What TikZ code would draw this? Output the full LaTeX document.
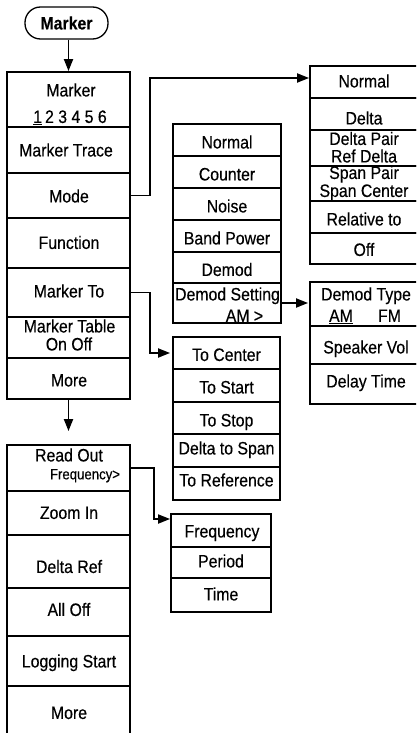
\documentclass[tikz,border=0pt]{standalone}
\usepackage{fontspec}
\setmainfont{Liberation Sans}[FakeStretch=0.88,FakeBold=0.35]
\usetikzlibrary{fit,arrows.meta}
\newcommand{\lblfnt}{\fontsize{18}{19}\selectfont}
\newcommand{\smfnt}{\fontsize{15}{16}\selectfont}
\begin{document}
\begin{tikzpicture}[x=1pt,y=-1pt,
  bx/.style={draw, line width=1.8pt, inner sep=0pt},
  lb/.style={inner sep=0pt, text height=12.9pt, text depth=0pt, font=\lblfnt},
  lbs/.style={inner sep=0pt, text height=10.7pt, text depth=0pt, font=\smfnt},
  conn/.style={line width=1.8pt},
  arr/.style={line width=1.8pt, -{Triangle[length=12pt,width=9pt]}},
  term/.style={draw, line width=1.3pt, rounded corners=15.5pt, minimum width=83pt, minimum height=32pt, inner sep=0pt, text height=12.9pt, text depth=0pt, font=\lblfnt\bfseries}]
\path[use as bounding box] (0,0) rectangle (416,733);
\clip (0,0) rectangle (416,733);

% terminal
\node[term] (term) at (66.5,23) {Marker};

% column 1
\node[bx, fit={(7,72) (130,127)}] (marker) {};
\node[bx, fit={(7,127) (130,173)}] (trace) {};
\node[bx, fit={(7,173) (130,218)}] (mode) {};
\node[bx, fit={(7,218) (130,268)}] (func) {};
\node[bx, fit={(7,268) (130,317)}] (mto) {};
\node[bx, fit={(7,317) (130,358)}] (mtab) {};
\node[bx, fit={(7,358) (130,399)}] (more1) {};
\node[bx, fit={(7,445) (130,491)}] (readout) {};
\node[bx, fit={(7,491) (130,535)}] (zoomin) {};
\node[bx, fit={(7,535) (130,588)}] (dref) {};
\node[bx, fit={(7,588) (130,636)}] (alloff) {};
\node[bx, fit={(7,636) (130,686)}] (logging) {};
\node[bx, fit={(7,686) (130,742)}] (more2) {};

\node[lb] (tMarker) at (71,90) {Marker};
\node[lb] (tDigits) at (70,116.5) {\underline{1}\,2 3 4 5 6};
\node[lb] (tTrace) at (66,150) {Marker Trace};
\node[lb] (tMode) at (69,196) {Mode};
\node[lb] (tFunc) at (69,242.5) {Function};
\node[lb] (tMto) at (69,291) {Marker To};
\node[lb] (tMtab) at (69.5,326) {Marker Table};
\node[lb] (tOnOff) at (69,344) {On Off};
\node[lb] (tMore1) at (69,380) {More};
\node[lb] (tRead) at (69,455) {Read Out};
\node[lbs] (tFreqG) at (85,474) {Frequency>};
\node[lb] (tZoom) at (69,512.5) {Zoom In};
\node[lb] (tDref) at (69,566.5) {Delta Ref};
\node[lb] (tAll) at (69,609.5) {All Off};
\node[lb] (tLog) at (69,661) {Logging Start};
\node[lb] (tMore2) at (69,712.5) {More};

% middle column
\node[bx, fit={(173,124) (281,156)}] (nnormal) {};
\node[bx, fit={(173,156) (281,188)}] (counter) {};
\node[bx, fit={(173,188) (281,220)}] (noise) {};
\node[bx, fit={(173,220) (281,252)}] (bandp) {};
\node[bx, fit={(173,252) (281,283)}] (demod) {};
\node[bx, fit={(173,283) (281,323)}] (demodset) {};
\node[lb] (tNn) at (227,142) {Normal};
\node[lb] (tCnt) at (227,174) {Counter};
\node[lb] (tNoise) at (227,206) {Noise};
\node[lb] (tBand) at (227,238) {Band Power};
\node[lb] (tDemod) at (227,269.5) {Demod};
\node[lb] (tDset) at (227.5,294) {Demod Setting};
\node[lb] (tAMg) at (244.5,315.5) {AM >};

% To column
\node[bx, fit={(173,337) (280,369)}] (tocenter) {};
\node[bx, fit={(173,369) (280,402)}] (tostart) {};
\node[bx, fit={(173,402) (280,434)}] (tostop) {};
\node[bx, fit={(173,434) (280,467)}] (dtospan) {};
\node[bx, fit={(173,467) (280,500)}] (toref) {};
\node[lb] (tTc) at (226.5,354.5) {To Center};
\node[lb] (tTs) at (226.5,387) {To Start};
\node[lb] (tTp) at (226.5,420) {To Stop};
\node[lb] (tDs) at (226.5,448) {Delta to Span};
\node[lb] (tTr) at (226.5,480) {To Reference};

% Frequency column
\node[bx, fit={(171,514) (271,547)}] (freq) {};
\node[bx, fit={(171,547) (271,578)}] (period) {};
\node[bx, fit={(171,578) (271,612)}] (time) {};
\node[lb] (tFreq) at (222,531) {Frequency};
\node[lb] (tPer) at (221,561) {Period};
\node[lb] (tTime) at (221,594) {Time};

% right column (mode submenu)
\node[bx, fit={(310,66) (420,98)}] (rnormal) {};
\node[bx, fit={(310,98) (420,130)}] (delta) {};
\node[bx, fit={(310,130) (420,166)}] (dpair) {};
\node[bx, fit={(310,166) (420,201)}] (spair) {};
\node[bx, fit={(310,201) (420,233)}] (relto) {};
\node[bx, fit={(310,233) (420,264)}] (off) {};
\node[lb] (tRn) at (364,81) {Normal};
\node[lb] (tDelta) at (364,118) {Delta};
\node[lb] (tDp) at (364,138.5) {Delta Pair};
\node[lb] (tRd) at (364,156) {Ref Delta};
\node[lb] (tSp) at (364,172.5) {Span Pair};
\node[lb] (tSc) at (364,190.5) {Span Center};
\node[lb] (tRel) at (364,219) {Relative to};
\node[lb] (tOff) at (364,249.5) {Off};

% demod type column
\node[bx, fit={(310,282) (420,326)}] (dtype) {};
\node[bx, fit={(310,326) (420,364)}] (spkvol) {};
\node[bx, fit={(310,364) (420,404)}] (delay) {};
\node[lb] (tDt) at (366,294) {Demod Type};
\node[lb] (tAM) at (341,315.5) {\underline{AM}};
\node[lb] (tFM) at (389.5,315.5) {FM};
\node[lb] (tSpk) at (366,347) {Speaker Vol};
\node[lb] (tDel) at (366,381) {Delay Time};

% connectors
\draw[arr] (term.south -| marker.north) -- (marker.north);
\draw[arr] (mode.east) -- ++(19,0) |- ([yshift=4pt]rnormal.west);
\draw[arr, shorten >=2pt] (mto.east) -- ++(19,0) |- (tocenter.west);
\draw[arr, shorten >=1pt] (demodset.east) -- (demodset.east -| dtype.west);
\draw[arr] (readout.east) -- ++(23,0) |- ([yshift=11.5pt]freq.west);
\draw[arr, shorten >=13pt] (more1.south) -- (readout.north);
\end{tikzpicture}
\end{document}
